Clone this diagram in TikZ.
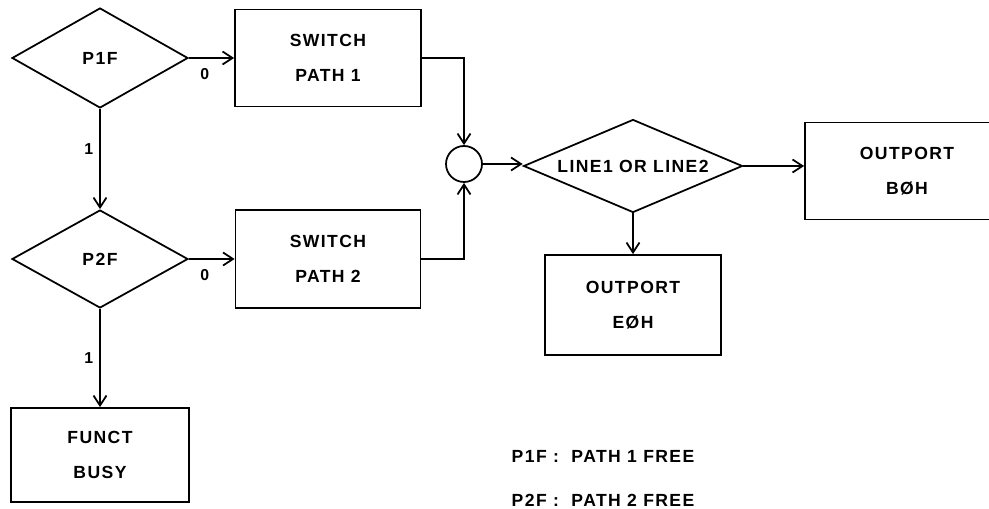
\documentclass[tikz,border=0pt]{standalone}
\usepackage{fontspec}
\setmainfont{Liberation Sans}[LetterSpace=8]
\usetikzlibrary{arrows.meta,shapes.geometric,positioning,calc}

\begin{document}
\begin{tikzpicture}[x=0.02cm,y=-0.02cm,
    font=\bfseries\fontsize{10}{20}\selectfont,line width=1pt,
    >={Straight Barb[length=2mm,width=2.6mm]},
    test/.style={draw,diamond,inner sep=0pt,align=center},
    blk/.style={draw,rectangle,inner sep=0pt,align=center},
    lbl/.style={font=\bfseries\fontsize{9}{10}\selectfont}]
    \useasboundingbox (0,0) rectangle (989,509);
    % path tests
    \node[test,aspect=1.76,minimum width=3.52cm,minimum height=2cm] (p1f) at (100,58) {P1F};
    \node[test,aspect=1.76,minimum width=3.52cm,minimum height=1.96cm] (p2f) at (100,259) {P2F};
    \node[blk,minimum width=3.72cm,minimum height=1.94cm] (sw1) at (328,58) {SWITCH\\PATH 1};
    \node[blk,minimum width=3.7cm,minimum height=1.96cm] (sw2) at (328,259) {SWITCH\\PATH 2};
    \node[blk,minimum width=3.56cm,minimum height=1.88cm] (busy) at (100,455) {FUNCT\\BUSY};
    % merge and line test
    \node[draw,circle,minimum size=0.72cm,inner sep=0pt] (join) at (464,164) {};
    \node[test,aspect=2.35,minimum width=4.38cm,minimum height=1.86cm] (line) at (633,166) {LINE1 OR LINE2};
    \node[blk,minimum width=4.08cm,minimum height=1.94cm] (outb) at (907,171) {OUTPORT\\BØH};
    \node[blk,minimum width=3.52cm,minimum height=2cm] (oute) at (633,305) {OUTPORT\\EØH};
    % connectors
    \draw[->] (p1f) -- node[lbl,below=2pt,pos=0.35] {0} (sw1);
    \draw[->] (p1f) -- node[lbl,left,pos=0.4] {1} (p2f);
    \draw[->] (p2f) -- node[lbl,below=2pt,pos=0.35] {0} (sw2);
    \draw[->] (p2f) -- node[lbl,left,pos=0.5] {1} (busy);
    \draw[->] (sw1.east) -| (join.north);
    \draw[->] (sw2.east) -| (join.south);
    \draw[->] (join) -- (join -| line.west);
    \draw[->] (line.east) -- (line.east -| outb.west);
    \draw[->] (line) -- (oute);
    % key
    \node[anchor=west] (key1) at (505,456) {P1F :\ \ PATH 1 FREE};
    \node[anchor=west] (key2) at (505,500) {P2F :\ \ PATH 2 FREE};
\end{tikzpicture}
\end{document}
